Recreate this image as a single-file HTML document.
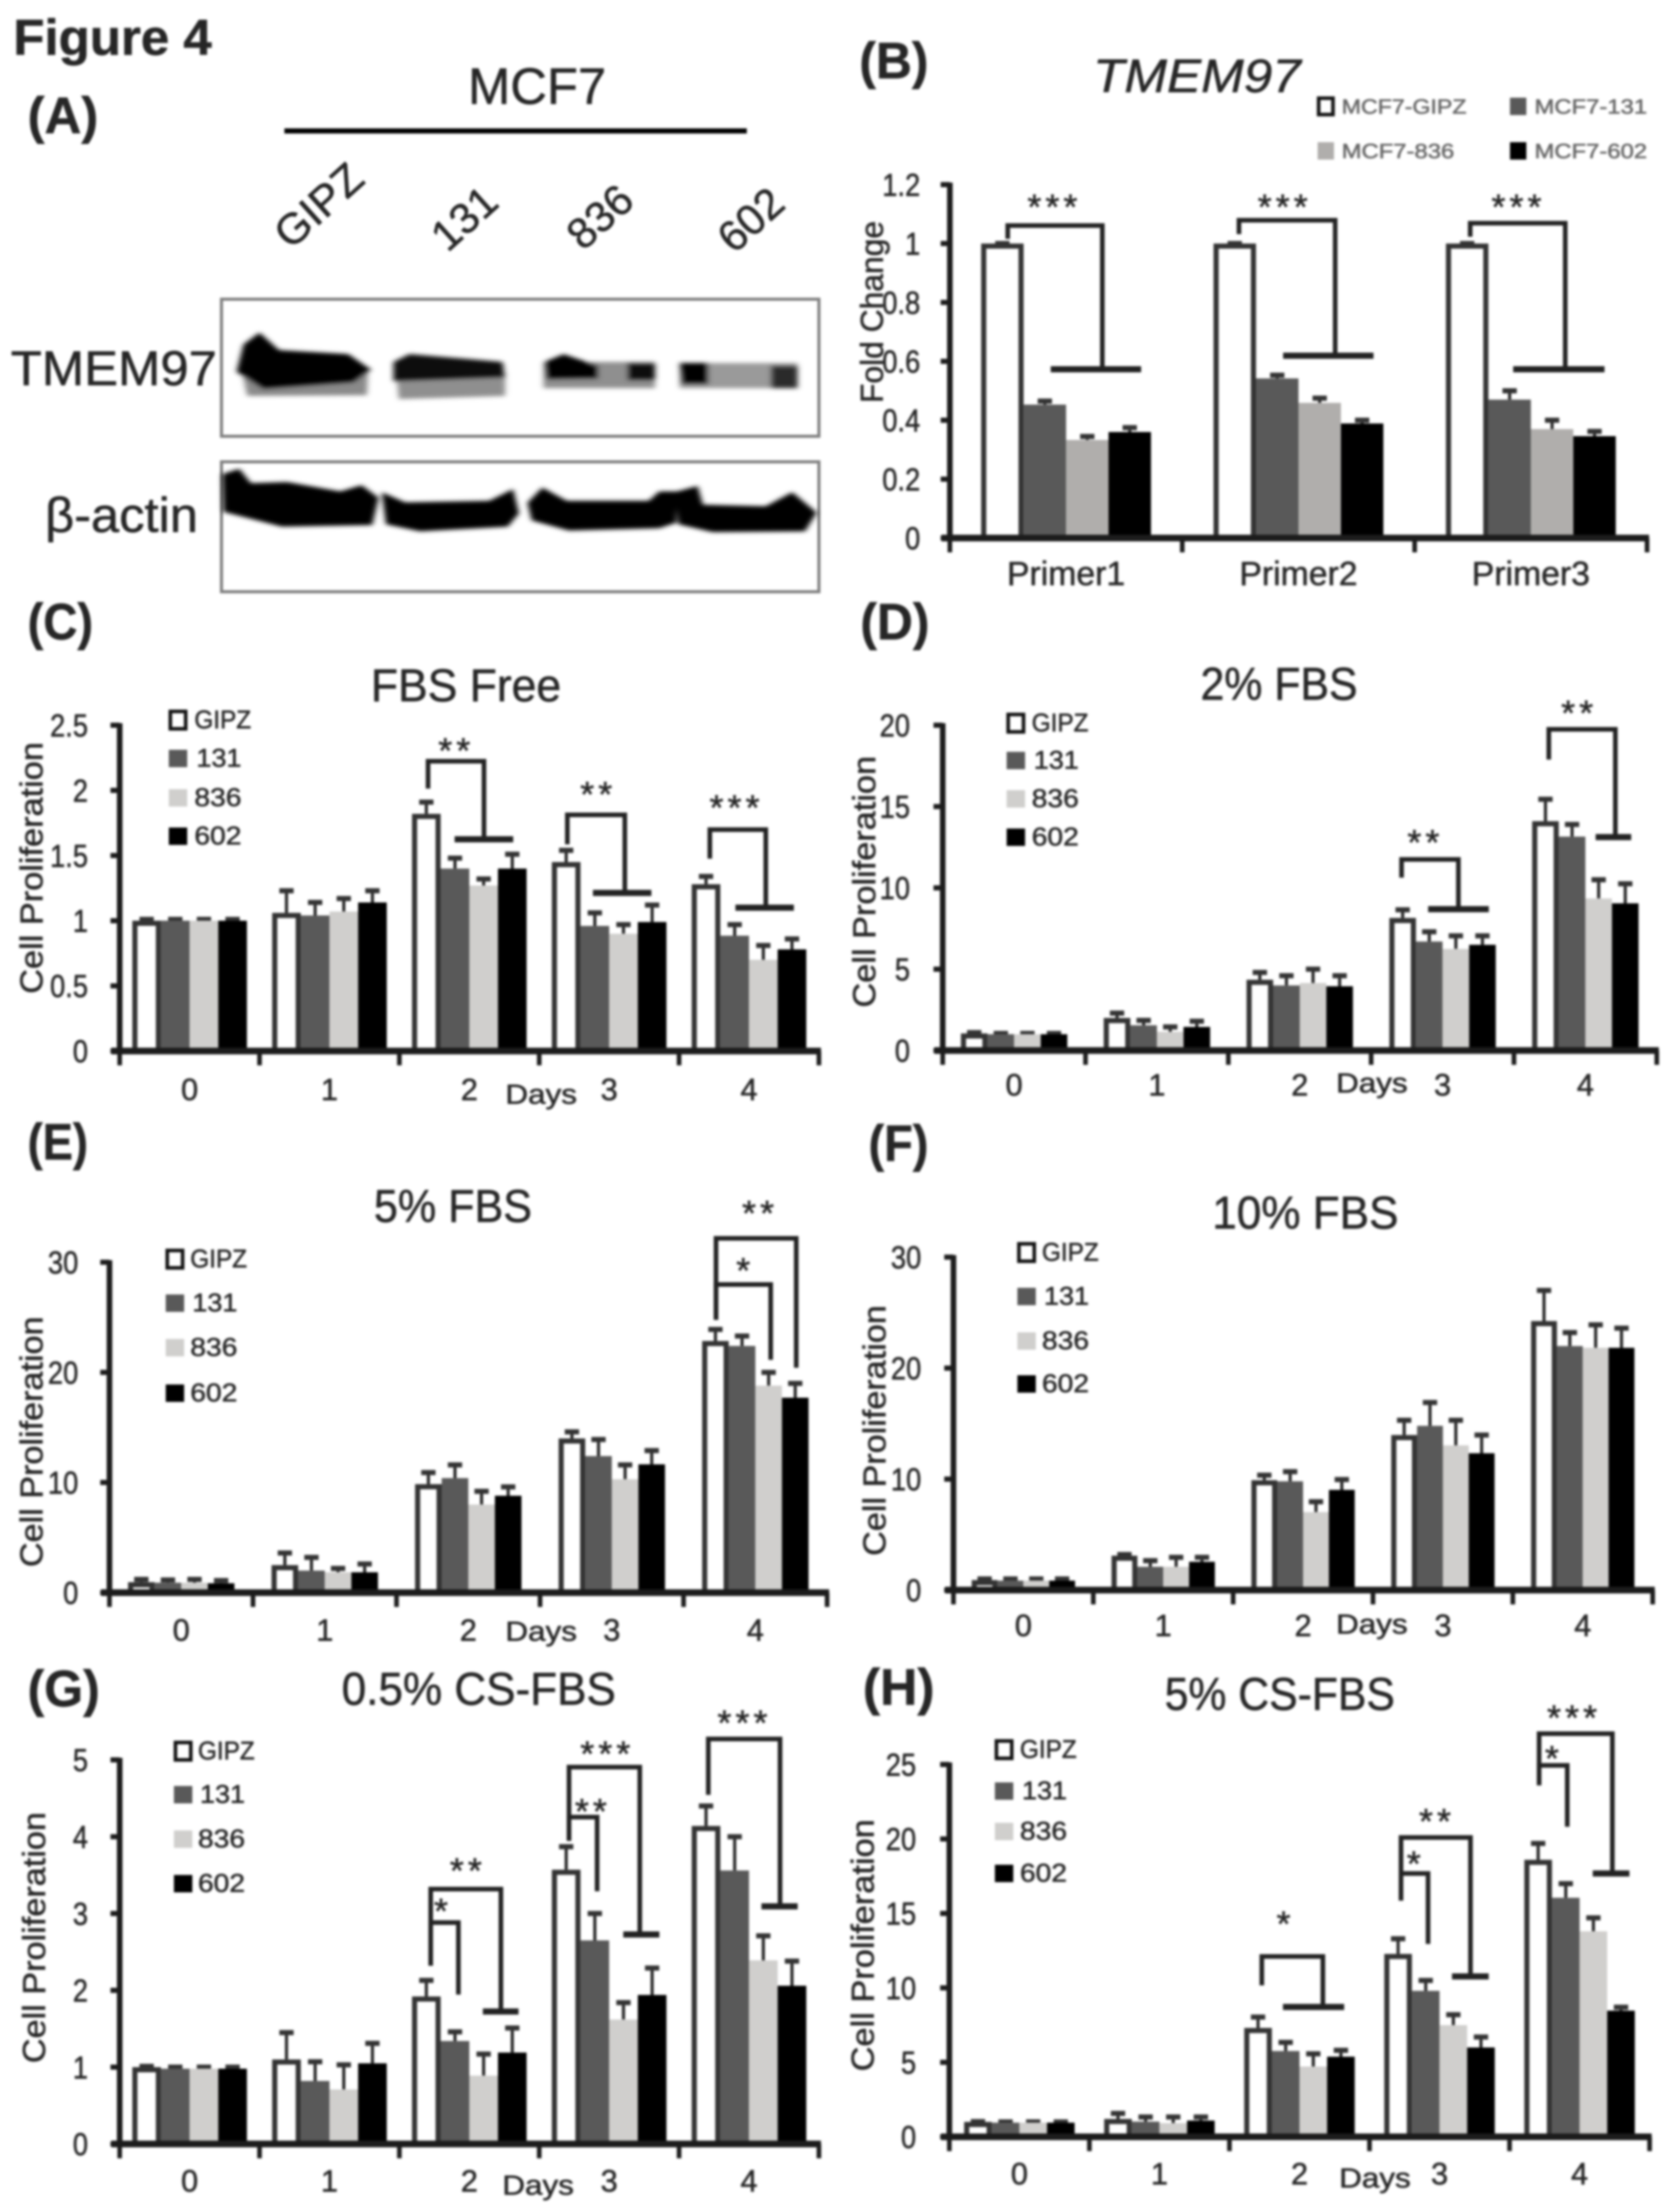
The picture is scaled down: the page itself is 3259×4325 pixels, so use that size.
<!DOCTYPE html>
<html lang="en">
<head>
<meta charset="utf-8">
<title>Figure 4</title>
<style>
html,body{margin:0;padding:0;background:#fff;width:3259px;height:4325px;overflow:hidden}
#figure{display:block;filter:blur(2.5px);font-family:"Liberation Sans",sans-serif}
#figure text{fill:#262626;stroke:#262626;stroke-width:1}
</style>
</head>
<body>
<svg id="figure" xmlns="http://www.w3.org/2000/svg" width="3259" height="4325" viewBox="0 0 3259 4325">
<defs><filter id="blot" x="-20%" y="-40%" width="140%" height="180%"><feGaussianBlur stdDeviation="5"/></filter></defs>
<rect width="3259" height="4325" fill="#fff"/>

<text x="26" y="107" font-size="98" font-weight="bold" textLength="388" lengthAdjust="spacingAndGlyphs">Figure 4</text>

<g>
<text x="54" y="260" font-size="100" font-weight="bold" textLength="138" lengthAdjust="spacingAndGlyphs">(A)</text>
<text x="915" y="203" font-size="100" textLength="270" lengthAdjust="spacingAndGlyphs">MCF7</text>
<rect x="556" y="251" width="904" height="10" fill="#000"/>
<text transform="translate(568,490) rotate(-42)" font-size="84" textLength="200" lengthAdjust="spacingAndGlyphs">GIPZ</text>
<text transform="translate(875,495) rotate(-42)" font-size="84" textLength="140" lengthAdjust="spacingAndGlyphs">131</text>
<text transform="translate(1140,492) rotate(-42)" font-size="84" textLength="140" lengthAdjust="spacingAndGlyphs">836</text>
<text transform="translate(1435,498) rotate(-42)" font-size="84" textLength="140" lengthAdjust="spacingAndGlyphs">602</text>
<text x="21" y="753" font-size="96" textLength="403" lengthAdjust="spacingAndGlyphs">TMEM97</text>
<text x="88" y="1040" font-size="96" textLength="299" lengthAdjust="spacingAndGlyphs">β-actin</text>
<rect x="433" y="585" width="1168" height="268" fill="#fff" stroke="#808080" stroke-width="6"/>
<rect x="433" y="903" width="1168" height="254" fill="#fff" stroke="#808080" stroke-width="6"/>
<g transform="scale(1.0395,0.765)" filter="url(#blot)">
<path d="M455 950L692 950L690 1010L465 1012Z" fill="#8a8a8a"/>
<path d="M458 880L488 850L525 895L655 905L698 945L665 978L495 995L445 950Z" fill="#000"/>
<path d="M745 950L950 950L950 1012L750 1020Z" fill="#8f8f8f"/>
<path d="M740 925L770 905L945 925L950 965L740 975Z" fill="#0a0a0a"/>
<path d="M1022 925L1232 925L1232 992L1022 992Z" fill="#8f8f8f"/>
<path d="M1024 925L1060 905L1125 935L1125 968L1028 970Z" fill="#000"/>
<path d="M1180 928L1232 928L1232 972L1180 972Z" fill="#111"/>
<path d="M1278 928L1500 928L1500 992L1278 992Z" fill="#9a9a9a"/>
<path d="M1278 928L1332 928L1332 982L1282 982Z" fill="#000"/>
<path d="M1450 935L1500 935L1500 992L1450 992Z" fill="#2a2a2a"/>
</g>
<g transform="scale(1.0395,0.765)" filter="url(#blot)">
<path d="M418 1212L450 1198L472 1235L540 1232L640 1256L680 1240L712 1272L700 1342L530 1346L420 1308Z" fill="#000"/>
<path d="M718 1258L762 1284L920 1280L965 1250L976 1312L955 1346L790 1358L726 1340Z" fill="#000"/>
<path d="M992 1285L1020 1246L1066 1280L1220 1280L1240 1256L1272 1256L1272 1336L1240 1350L1070 1356L1000 1330Z" fill="#000"/>
<path d="M1268 1258L1312 1242L1322 1290L1440 1294L1490 1258L1536 1310L1514 1358L1340 1360L1276 1340Z" fill="#000"/>
</g>
</g>

<g id="panel-b">
<text x="1680" y="153" font-size="100" font-weight="bold" textLength="135" lengthAdjust="spacingAndGlyphs">(B)</text>
<text x="2137" y="180" font-size="92" font-style="italic" textLength="406" lengthAdjust="spacingAndGlyphs">TMEM97</text>
<text transform="translate(1726,788) rotate(-90)" font-size="62" textLength="356" lengthAdjust="spacingAndGlyphs">Fold Change</text>
<g>
<rect x="2578" y="192" width="28" height="32" fill="#fff" stroke="#111" stroke-width="7"/>
<text x="2623" y="222" font-size="40" textLength="244" lengthAdjust="spacingAndGlyphs" style="fill:#666;stroke:#666">MCF7-GIPZ</text>
<rect x="2952" y="191" width="32" height="34" fill="#595959"/>
<text x="3000" y="222" font-size="40" textLength="220" lengthAdjust="spacingAndGlyphs" style="fill:#666;stroke:#666">MCF7-131</text>
<rect x="2576" y="278" width="32" height="34" fill="#b0aeac"/>
<text x="2623" y="309" font-size="40" textLength="220" lengthAdjust="spacingAndGlyphs" style="fill:#666;stroke:#666">MCF7-836</text>
<rect x="2952" y="278" width="32" height="34" fill="#000"/>
<text x="3000" y="309" font-size="40" textLength="220" lengthAdjust="spacingAndGlyphs" style="fill:#666;stroke:#666">MCF7-602</text>
</g>
</g>

<g id="panel-c">
<text x="54" y="1250" font-size="100" font-weight="bold" textLength="128" lengthAdjust="spacingAndGlyphs">(C)</text>
<text x="725" y="1371" font-size="90" textLength="372" lengthAdjust="spacingAndGlyphs">FBS Free</text>
<text transform="translate(83,1943) rotate(-90)" font-size="62" textLength="492" lengthAdjust="spacingAndGlyphs">Cell Proliferation</text>
<text x="988" y="2158" font-size="54" textLength="140" lengthAdjust="spacingAndGlyphs">Days</text>
<g>
<rect x="333" y="1391" width="30" height="34" fill="#fff" stroke="#111" stroke-width="7"/>
<text x="380" y="1424" font-size="50" textLength="111" lengthAdjust="spacingAndGlyphs">GIPZ</text>
<rect x="330" y="1466" width="36" height="34" fill="#595959"/>
<text x="384" y="1499" font-size="50" textLength="88" lengthAdjust="spacingAndGlyphs">131</text>
<rect x="330" y="1543" width="36" height="34" fill="#d0cfcd"/>
<text x="380" y="1576" font-size="50" textLength="92" lengthAdjust="spacingAndGlyphs">836</text>
<rect x="330" y="1618" width="36" height="34" fill="#000"/>
<text x="380" y="1651" font-size="50" textLength="92" lengthAdjust="spacingAndGlyphs">602</text>
</g>
</g>

<g id="panel-d">
<text x="1682" y="1250" font-size="100" font-weight="bold" textLength="135" lengthAdjust="spacingAndGlyphs">(D)</text>
<text x="2347" y="1368" font-size="90" textLength="307" lengthAdjust="spacingAndGlyphs">2% FBS</text>
<text transform="translate(1711,1970) rotate(-90)" font-size="62" textLength="492" lengthAdjust="spacingAndGlyphs">Cell Proliferation</text>
<text x="2612" y="2136" font-size="54" textLength="140" lengthAdjust="spacingAndGlyphs">Days</text>
<g>
<rect x="1971" y="1397" width="30" height="34" fill="#fff" stroke="#111" stroke-width="7"/>
<text x="2017" y="1430" font-size="50" textLength="111" lengthAdjust="spacingAndGlyphs">GIPZ</text>
<rect x="1968" y="1470" width="36" height="34" fill="#595959"/>
<text x="2021" y="1503" font-size="50" textLength="88" lengthAdjust="spacingAndGlyphs">131</text>
<rect x="1968" y="1545" width="36" height="34" fill="#d0cfcd"/>
<text x="2017" y="1578" font-size="50" textLength="92" lengthAdjust="spacingAndGlyphs">836</text>
<rect x="1968" y="1620" width="36" height="34" fill="#000"/>
<text x="2017" y="1653" font-size="50" textLength="92" lengthAdjust="spacingAndGlyphs">602</text>
</g>
</g>

<g id="panel-e">
<text x="54" y="2267" font-size="100" font-weight="bold" textLength="118" lengthAdjust="spacingAndGlyphs">(E)</text>
<text x="731" y="2389" font-size="90" textLength="309" lengthAdjust="spacingAndGlyphs">5% FBS</text>
<text transform="translate(83,3064) rotate(-90)" font-size="62" textLength="490" lengthAdjust="spacingAndGlyphs">Cell Proliferation</text>
<text x="988" y="3208" font-size="54" textLength="140" lengthAdjust="spacingAndGlyphs">Days</text>
<g>
<rect x="327" y="2445" width="30" height="34" fill="#fff" stroke="#111" stroke-width="7"/>
<text x="372" y="2478" font-size="50" textLength="111" lengthAdjust="spacingAndGlyphs">GIPZ</text>
<rect x="324" y="2531" width="36" height="34" fill="#595959"/>
<text x="376" y="2564" font-size="50" textLength="88" lengthAdjust="spacingAndGlyphs">131</text>
<rect x="324" y="2618" width="36" height="34" fill="#d0cfcd"/>
<text x="372" y="2651" font-size="50" textLength="92" lengthAdjust="spacingAndGlyphs">836</text>
<rect x="324" y="2707" width="36" height="34" fill="#000"/>
<text x="372" y="2740" font-size="50" textLength="92" lengthAdjust="spacingAndGlyphs">602</text>
</g>
</g>

<g id="panel-f">
<text x="1698" y="2270" font-size="100" font-weight="bold" textLength="117" lengthAdjust="spacingAndGlyphs">(F)</text>
<text x="2370" y="2402" font-size="90" textLength="364" lengthAdjust="spacingAndGlyphs">10% FBS</text>
<text transform="translate(1731,3042) rotate(-90)" font-size="62" textLength="490" lengthAdjust="spacingAndGlyphs">Cell Proliferation</text>
<text x="2612" y="3194" font-size="54" textLength="140" lengthAdjust="spacingAndGlyphs">Days</text>
<g>
<rect x="1992" y="2432" width="30" height="34" fill="#fff" stroke="#111" stroke-width="7"/>
<text x="2037" y="2465" font-size="50" textLength="111" lengthAdjust="spacingAndGlyphs">GIPZ</text>
<rect x="1989" y="2518" width="36" height="34" fill="#595959"/>
<text x="2041" y="2551" font-size="50" textLength="88" lengthAdjust="spacingAndGlyphs">131</text>
<rect x="1989" y="2605" width="36" height="34" fill="#d0cfcd"/>
<text x="2037" y="2638" font-size="50" textLength="92" lengthAdjust="spacingAndGlyphs">836</text>
<rect x="1989" y="2689" width="36" height="34" fill="#000"/>
<text x="2037" y="2722" font-size="50" textLength="92" lengthAdjust="spacingAndGlyphs">602</text>
</g>
</g>

<g id="panel-g">
<text x="54" y="3336" font-size="100" font-weight="bold" textLength="141" lengthAdjust="spacingAndGlyphs">(G)</text>
<text x="668" y="3333" font-size="90" textLength="536" lengthAdjust="spacingAndGlyphs">0.5% CS-FBS</text>
<text transform="translate(88,4034) rotate(-90)" font-size="62" textLength="491" lengthAdjust="spacingAndGlyphs">Cell Proliferation</text>
<text x="982" y="4291" font-size="54" textLength="140" lengthAdjust="spacingAndGlyphs">Days</text>
<g>
<rect x="343" y="3407" width="30" height="34" fill="#fff" stroke="#111" stroke-width="7"/>
<text x="387" y="3440" font-size="50" textLength="111" lengthAdjust="spacingAndGlyphs">GIPZ</text>
<rect x="340" y="3492" width="36" height="34" fill="#595959"/>
<text x="391" y="3525" font-size="50" textLength="88" lengthAdjust="spacingAndGlyphs">131</text>
<rect x="340" y="3579" width="36" height="34" fill="#d0cfcd"/>
<text x="387" y="3612" font-size="50" textLength="92" lengthAdjust="spacingAndGlyphs">836</text>
<rect x="340" y="3666" width="36" height="34" fill="#000"/>
<text x="387" y="3699" font-size="50" textLength="92" lengthAdjust="spacingAndGlyphs">602</text>
</g>
</g>

<g id="panel-h">
<text x="1687" y="3333" font-size="100" font-weight="bold" textLength="140" lengthAdjust="spacingAndGlyphs">(H)</text>
<text x="2277" y="3343" font-size="90" textLength="450" lengthAdjust="spacingAndGlyphs">5% CS-FBS</text>
<text transform="translate(1708,4050) rotate(-90)" font-size="62" textLength="493" lengthAdjust="spacingAndGlyphs">Cell Proliferation</text>
<text x="2618" y="4277" font-size="54" textLength="140" lengthAdjust="spacingAndGlyphs">Days</text>
<g>
<rect x="1948" y="3404" width="30" height="34" fill="#fff" stroke="#111" stroke-width="7"/>
<text x="1994" y="3437" font-size="50" textLength="111" lengthAdjust="spacingAndGlyphs">GIPZ</text>
<rect x="1945" y="3485" width="36" height="34" fill="#595959"/>
<text x="1998" y="3518" font-size="50" textLength="88" lengthAdjust="spacingAndGlyphs">131</text>
<rect x="1945" y="3564" width="36" height="34" fill="#d0cfcd"/>
<text x="1994" y="3597" font-size="50" textLength="92" lengthAdjust="spacingAndGlyphs">836</text>
<rect x="1945" y="3646" width="36" height="34" fill="#000"/>
<text x="1994" y="3679" font-size="50" textLength="92" lengthAdjust="spacingAndGlyphs">602</text>
</g>
</g>
</svg>

<script>
// Category labels
const dayLabels = ['0', '1', '2', '3', '4'];
const primerLabels = ['Primer1', 'Primer2', 'Primer3'];
const seriesNames = ['gipz', '131', '836', '602'];

// Y tick labels
const bTicks = ['0', '0.2', '0.4', '0.6', '0.8', '1', '1.2'];
const cTicks = ['0', '0.5', '1', '1.5', '2', '2.5'];
const dTicks = ['0', '5', '10', '15', '20'];
const eTicks = ['0', '10', '20', '30'];
const fTicks = ['0', '10', '20', '30'];
const gTicks = ['0', '1', '2', '3', '4', '5'];
const hTicks = ['0', '5', '10', '15', '20', '25'];

// Bar heights: one row per category, columns GIPZ, 131, 836, 602
const bValues = [[1, 0.453, 0.333, 0.36], [1, 0.542, 0.459, 0.389], [1, 0.47, 0.37, 0.346]];
const bHighs = [[1, 0.465, 0.345, 0.375], [1, 0.553, 0.475, 0.4], [1, 0.5, 0.4, 0.362]];

const cValues = [[1, 1, 1, 1], [1.06, 1.04, 1.07, 1.14], [1.82, 1.4, 1.27, 1.4], [1.45, 0.96, 0.9, 0.99], [1.28, 0.885, 0.7, 0.78]];
const cHighs = [[1.01, 1.01, 1.01, 1.01], [1.23, 1.14, 1.17, 1.23], [1.91, 1.48, 1.32, 1.51], [1.54, 1.06, 0.97, 1.12], [1.34, 0.97, 0.81, 0.86]];

const dValues = [[1.05, 1, 1, 1], [2, 1.55, 1.15, 1.45], [4.35, 4, 4.15, 3.95], [8.15, 6.7, 6.25, 6.5], [14.1, 13.15, 9.35, 9.05]];
const dHighs = [[1.1, 1.05, 1.05, 1.05], [2.3, 1.85, 1.45, 1.8], [4.8, 4.6, 5, 4.6], [8.65, 7.3, 7.05, 7.05], [15.45, 13.9, 10.5, 10.25]];

const eValues = [[0.95, 0.9, 0.9, 0.85], [2.5, 2, 1.85, 1.85], [9.85, 10.4, 8, 8.8], [14, 12.4, 10.3, 11.65], [22.85, 22.4, 18.8, 17.7]];
const eHighs = [[1.2, 1.15, 1.2, 1.1], [3.6, 3.2, 2.2, 2.6], [10.9, 11.6, 9.2, 9.6], [14.6, 13.9, 11.6, 12.9], [23.9, 23.3, 20, 19]];

const fValues = [[0.9, 0.85, 0.85, 0.85], [3.1, 2.1, 2.1, 2.55], [9.9, 9.8, 7.03, 9.03], [13.97, 14.8, 13.04, 12.33], [24.24, 21.99, 21.83, 21.83]];
const fHighs = [[1, 1, 1, 1], [3.2, 2.65, 2.95, 2.95], [10.35, 10.67, 7.96, 9.96], [15.3, 16.9, 15.3, 13.97], [27, 23.2, 23.9, 23.6]];

const gValues = [[1, 0.98, 0.98, 0.98], [1.1, 0.82, 0.71, 1.05], [1.92, 1.34, 0.89, 1.19], [3.57, 2.65, 1.62, 1.94], [4.14, 3.56, 2.39, 2.06]];
const gHighs = [[1.01, 1, 1, 1], [1.45, 1.07, 1.03, 1.31], [2.13, 1.46, 1.17, 1.51], [3.87, 3, 1.84, 2.29], [4.4, 4, 2.71, 2.38]];

const hValues = [[1, 0.95, 0.95, 0.95], [1.2, 1.02, 0.92, 1.09], [7.31, 5.76, 4.72, 5.38], [12.28, 9.8, 7.5, 6], [18.6, 16.05, 13.8, 8.47]];
const hHighs = [[1.02, 1, 1, 1], [1.57, 1.33, 1.33, 1.33], [8.04, 6.34, 5.57, 5.81], [13.3, 10.5, 8.2, 6.7], [19.7, 17, 14.7, 8.7]];

// Significance brackets, in category units (x) and axis units (y)
const bBrackets = [
  {xl: 0.249, xr: 0.656, yl: 1.016, yt: 1.061, yr: 0.573, cl: 0.434, cr: 0.823},
  {xl: 1.244, xr: 1.658, yl: 1.032, yt: 1.079, yr: 0.619, cl: 1.434, cr: 1.823},
  {xl: 2.239, xr: 2.648, yl: 1.023, yt: 1.069, yr: 0.573, cl: 2.424, cr: 2.817}
];
const bStars = [{x: 0.45, y: 1.152, s: '***'}, {x: 1.441, y: 1.152, s: '***'}, {x: 2.447, y: 1.152, s: '***'}];

const cBrackets = [
  {xl: 2.205, xr: 2.605, yl: 2.014, yt: 2.224, yr: 1.625, cl: 2.395, cr: 2.814},
  {xl: 3.201, xr: 3.612, yl: 1.586, yt: 1.812, yr: 1.213, cl: 3.384, cr: 3.802},
  {xl: 4.22, xr: 4.62, yl: 1.476, yt: 1.699, yr: 1.1, cl: 4.403, cr: 4.821}
];
const cStars = [{x: 2.407, y: 2.369, s: '**'}, {x: 3.422, y: 2.033, s: '**'}, {x: 4.411, y: 1.93, s: '***'}];

const dBrackets = [
  {xl: 3.213, xr: 3.611, yl: 10.63, yt: 11.75, yr: 8.69, cl: 3.399, cr: 3.824},
  {xl: 4.244, xr: 4.71, yl: 17.89, yt: 19.75, yr: 13.12, cl: 4.572, cr: 4.821}
];
const dStars = [{x: 3.38, y: 13.3, s: '**'}, {x: 4.457, y: 21.26, s: '**'}];

const eBrackets = [
  {xl: 4.226, xr: 4.785, yl: 24.77, yt: 32.17, yr: 20.42},
  {xl: 4.226, xr: 4.607, yl: 24.77, yt: 27.98, yr: 21.14}
];
const eStars = [{x: 4.533, y: 35.2, s: '**'}, {x: 4.43, y: 30, s: '*'}];

const fBrackets = [];
const fStars = [];

const gBrackets = [
  {xl: 2.224, xr: 2.726, yl: 2.32, yt: 3.318, yr: 1.724, cl: 2.597, cr: 2.852},
  {xl: 2.224, xr: 2.422, yl: 2.32, yt: 2.882, yr: 1.945},
  {xl: 3.213, xr: 3.719, yl: 3.946, yt: 4.906, yr: 2.727, cl: 3.601, cr: 3.859},
  {xl: 3.213, xr: 3.414, yl: 3.946, yt: 4.255, yr: 3.29},
  {xl: 4.209, xr: 4.722, yl: 4.545, yt: 5.272, yr: 3.093, cl: 4.589, cr: 4.848}
];
const gStars = [{x: 2.49, y: 3.664, s: '**'}, {x: 2.312, y: 3.14, s: '*'}, {x: 3.487, y: 5.187, s: '***'}, {x: 3.384, y: 4.438, s: '**'}, {x: 4.468, y: 5.59, s: '***'}];

const hBrackets = [
  {xl: 2.231, xr: 2.667, yl: 10.17, yt: 12.11, yr: 8.72, cl: 2.382, cr: 2.819},
  {xl: 3.225, xr: 3.721, yl: 15.86, yt: 20.1, yr: 10.77, cl: 3.589, cr: 3.851},
  {xl: 3.225, xr: 3.418, yl: 15.86, yt: 17.68, yr: 12.95},
  {xl: 4.211, xr: 4.734, yl: 23.6, yt: 27.07, yr: 17.68, cl: 4.594, cr: 4.856},
  {xl: 4.211, xr: 4.412, yl: 23.6, yt: 24.94, yr: 20.82}
];
const hStars = [{x: 2.401, y: 14.85, s: '*'}, {x: 3.482, y: 21.74, s: '**'}, {x: 3.331, y: 18.89, s: '*'}, {x: 4.461, y: 28.69, s: '***'}, {x: 4.317, y: 25.96, s: '*'}];

const NS = 'http://www.w3.org/2000/svg';
function mk(tag, parent, geometry) {
  const el = document.createElementNS(NS, tag);
  for (const k in geometry) el.setAttribute(k, geometry[k]);
  parent.appendChild(el);
  return el;
}
function narrow(textEl, ratio) {
  textEl.setAttribute('textLength', textEl.getComputedTextLength() * ratio);
  textEl.setAttribute('lengthAdjust', 'spacingAndGlyphs');
}

function drawPanel(p) {
  const root = document.getElementById(p.id);
  const band = (p.right - p.left) / p.cats.length;
  const yMax = Number(p.ticks[p.ticks.length - 1]);
  const X = u => p.left + u * band;
  const Y = v => p.bottom - (v / yMax) * (p.bottom - p.top);
  const fills = ['#fff', '#595959', p.lightFill, '#000'];

  p.values.forEach((row, c) => {
    const start = X(c + 0.5) - 2 * p.barW;
    row.forEach((v, s) => {
      const cx = start + (s + 0.5) * p.barW;
      const stem = mk('line', root, {x1: cx, x2: cx, y1: Y(v), y2: Y(p.highs[c][s]), stroke: '#222', 'stroke-width': 6});
      
      
      const cap = mk('line', root, {x1: cx - 14, x2: cx + 14, y1: Y(p.highs[c][s]), y2: Y(p.highs[c][s]), stroke: '#333', 'stroke-width': 10});
      
      
    });
    row.forEach((v, s) => {
      const inset = s === 0 ? 5 : 0;
      const bar = mk('rect', root, {
        x: start + s * p.barW + inset,
        y: Y(v) + inset,
        width: p.barW - 2 * inset,
        height: Math.max(0, p.bottom - Y(v) - inset),
        fill: fills[s],
        stroke: s === 0 ? '#333' : 'none',
        'stroke-width': s === 0 ? 10 : 0
      });
      
      
    });
  });

  const yAxis = mk('line', root, {x1: p.left, x2: p.left, y1: p.top - 4, y2: p.bottom + 4, stroke: '#1c1c1c', 'stroke-width': 11});
  
  
  const xAxis = mk('line', root, {x1: p.left - 16, x2: p.right + 4, y1: p.bottom, y2: p.bottom, stroke: '#1c1c1c', 'stroke-width': 13});
  
  

  p.ticks.forEach(t => {
    const y = Y(Number(t));
    const tick = mk('line', root, {x1: p.left - 18, x2: p.left, y1: y, y2: y, stroke: '#1c1c1c', 'stroke-width': 10});
    
    
    const label = mk('text', root, {x: p.tickRight, y: y + 22, 'text-anchor': 'end', 'font-size': 62});
    
    
    label.textContent = t;
    narrow(label, 0.86);
  });

  for (let i = 0; i <= p.cats.length; i++) {
    const x = X(i);
    const tick = mk('line', root, {x1: x, x2: x, y1: p.bottom, y2: p.bottom + 28, stroke: '#1c1c1c', 'stroke-width': 9});
    
    
  }
  p.cats.forEach((cat, i) => {
    const label = mk('text', root, {x: X(i + 0.5), y: p.catBaseline, 'text-anchor': 'middle', 'font-size': p.catFont});
    
    
    label.textContent = cat;
  });

  p.brackets.forEach((b, i) => {
    const path = mk('path', root, {
      d: 'M' + X(b.xl) + ' ' + Y(b.yl) + 'V' + Y(b.yt) + 'H' + X(b.xr) + 'V' + Y(b.yr),
      fill: 'none', stroke: '#222', 'stroke-width': 9
    });
    
    
    if (b.cl !== undefined) {
      const bar = mk('line', root, {x1: X(b.cl), x2: X(b.cr), y1: Y(b.yr), y2: Y(b.yr), stroke: '#222', 'stroke-width': 12});
      
      
    }
  });
  p.stars.forEach((st, i) => {
    const t = mk('text', root, {x: X(st.x), y: Y(st.y) + 40, 'text-anchor': 'middle', 'font-size': 70, 'letter-spacing': 8});
    
    
    t.textContent = st.s;
  });
}

drawPanel({id: 'panel-b', left: 1857, right: 3220, top: 361, bottom: 1052, barW: 83, lightFill: '#b0aeac', tickRight: 1799, catBaseline: 1144, catFont: 66, cats: primerLabels, ticks: bTicks, values: bValues, highs: bHighs, brackets: bBrackets, stars: bStars});
drawPanel({id: 'panel-c', left: 234, right: 1601, top: 1418, bottom: 2055, barW: 56, lightFill: '#d0cfcd', tickRight: 172, catBaseline: 2151, catFont: 60, cats: dayLabels, ticks: cTicks, values: cValues, highs: cHighs, brackets: cBrackets, stars: cStars});
drawPanel({id: 'panel-d', left: 1843, right: 3239, top: 1418, bottom: 2054, barW: 52, lightFill: '#d0cfcd', tickRight: 1779, catBaseline: 2142, catFont: 60, cats: dayLabels, ticks: dTicks, values: dValues, highs: dHighs, brackets: dBrackets, stars: dStars});
drawPanel({id: 'panel-e', left: 214, right: 1617, top: 2468, bottom: 3114, barW: 52, lightFill: '#d0cfcd', tickRight: 153, catBaseline: 3208, catFont: 60, cats: dayLabels, ticks: eTicks, values: eValues, highs: eHighs, brackets: eBrackets, stars: eStars});
drawPanel({id: 'panel-f', left: 1864, right: 3231, top: 2458, bottom: 3109, barW: 50.5, lightFill: '#d0cfcd', tickRight: 1801, catBaseline: 3199, catFont: 60, cats: dayLabels, ticks: fTicks, values: fValues, highs: fHighs, brackets: fBrackets, stars: fStars});
drawPanel({id: 'panel-g', left: 234, right: 1601, top: 3441, bottom: 4192, barW: 56, lightFill: '#d0cfcd', tickRight: 172, catBaseline: 4285, catFont: 60, cats: dayLabels, ticks: gTicks, values: gValues, highs: gHighs, brackets: gBrackets, stars: gStars});
drawPanel({id: 'panel-h', left: 1856, right: 3225, top: 3450, bottom: 4178, barW: 54, lightFill: '#d0cfcd', tickRight: 1791, catBaseline: 4271, catFont: 60, cats: dayLabels, ticks: hTicks, values: hValues, highs: hHighs, brackets: hBrackets, stars: hStars});
</script>
</body>
</html>
